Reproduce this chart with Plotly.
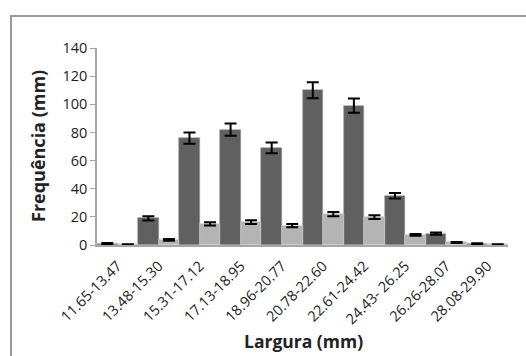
import plotly.graph_objects as go

categories = ["11.65-13.47", "13.48-15.30", "15.31-17.12", "17.13-18.95", "18.96-20.77",
              "20.78-22.60", "22.61-24.42", "24.43- 26.25", "26.26-28.07", "28.08-29.90"]
dark_values = [1, 19, 76, 82, 69, 110, 99, 35, 8, 1]
dark_errors = [0.4, 1.5, 4, 4.3, 3.8, 5.7, 5.1, 2, 0.8, 0.3]
light_values = [0.4, 3.7, 15, 16.3, 13.8, 22, 19.8, 7.2, 1.8, 0.4]
light_errors = [0.2, 0.6, 1.2, 1.3, 1.1, 1.5, 1.4, 0.6, 0.3, 0.2]

fig = go.Figure()
fig.add_trace(go.Bar(
    x=categories, y=dark_values, marker=dict(color="#606060", line=dict(color="#9a9a9a", width=0.6)),
    error_y=dict(type="data", array=dark_errors, color="black", thickness=2, width=6),
    showlegend=False))
fig.add_trace(go.Bar(
    x=categories, y=light_values, marker=dict(color="#b4b4b4", line=dict(color="#d0d0d0", width=0.6)),
    error_y=dict(type="data", array=light_errors, color="black", thickness=2, width=6),
    showlegend=False))

font_family = "Open Sans, Liberation Sans, sans-serif"
fig.update_layout(
    width=526, height=356,
    margin=dict(l=97, r=18, t=48, b=111),
    paper_bgcolor="white", plot_bgcolor="white",
    barmode="group", bargap=0, bargroupgap=0,
    font=dict(family=font_family, color="#222222"),
    xaxis=dict(
        tickangle=-45, tickfont=dict(size=14.5, color="#222222"),
        showline=True, linecolor="#a6a6a6", linewidth=1.5,
        ticks="outside", ticklen=5, tickcolor="rgba(0,0,0,0)",
        showgrid=False, automargin=False,
    ),
    yaxis=dict(
        range=[0, 140], tickvals=[0, 20, 40, 60, 80, 100, 120, 140],
        tickfont=dict(size=14.5, color="#222222"),
        showline=True, linecolor="#a6a6a6", linewidth=1.5,
        ticks="outside", ticklen=5, tickcolor="#a6a6a6",
        showgrid=False, zeroline=False, automargin=False,
    ),
    annotations=[
        dict(text="<b>Largura (mm)</b>", xref="paper", yref="paper",
             x=(303 - 97) / 411, y=(245 - 341) / 197, xanchor="center", yanchor="middle",
             showarrow=False, font=dict(size=17.5, color="#222222")),
        dict(text="<b>Frequência (mm)</b>", xref="paper", yref="paper",
             x=(38 - 97) / 411, y=(245 - 146) / 197, xanchor="center", yanchor="middle",
             textangle=-90, showarrow=False, font=dict(size=18, color="#222222")),
    ],
    shapes=[dict(type="rect", xref="paper", yref="paper",
                 x0=(11 - 97) / 411, x1=(540 - 97) / 411,
                 y0=(245 - 370) / 197, y1=(245 - 16) / 197,
                 line=dict(color="#9a9a9a", width=2), fillcolor="rgba(0,0,0,0)", layer="below")],
)

fig.write_html("out.html")
